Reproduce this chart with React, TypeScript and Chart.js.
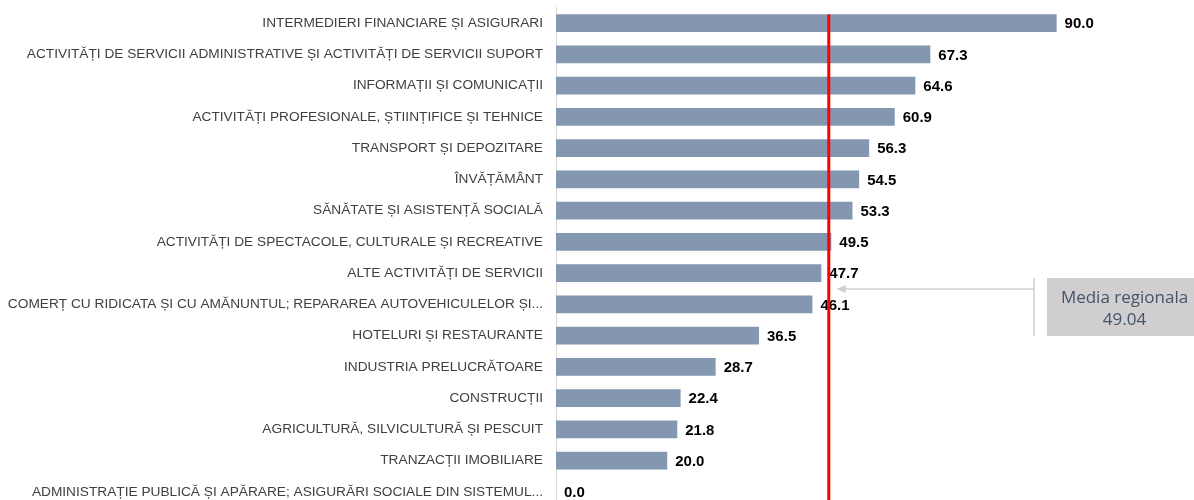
import React, { useEffect, useRef } from "react";
import { Chart, registerables } from "chart.js";

Chart.register(...registerables);

const categories: string[] = [
  "INTERMEDIERI FINANCIARE ȘI ASIGURARI",
  "ACTIVITĂȚI DE SERVICII ADMINISTRATIVE ȘI ACTIVITĂȚI DE SERVICII SUPORT",
  "INFORMAȚII ȘI COMUNICAȚII",
  "ACTIVITĂȚI PROFESIONALE, ȘTIINȚIFICE ȘI TEHNICE",
  "TRANSPORT ȘI DEPOZITARE",
  "ÎNVĂȚĂMÂNT",
  "SĂNĂTATE ȘI ASISTENȚĂ SOCIALĂ",
  "ACTIVITĂȚI DE SPECTACOLE, CULTURALE ȘI RECREATIVE",
  "ALTE ACTIVITĂȚI DE SERVICII",
  "COMERȚ CU RIDICATA ȘI CU AMĂNUNTUL; REPARAREA AUTOVEHICULELOR ȘI...",
  "HOTELURI ȘI RESTAURANTE",
  "INDUSTRIA PRELUCRĂTOARE",
  "CONSTRUCȚII",
  "AGRICULTURĂ, SILVICULTURĂ ȘI PESCUIT",
  "TRANZACȚII IMOBILIARE",
  "ADMINISTRAȚIE PUBLICĂ ȘI APĂRARE; ASIGURĂRI SOCIALE DIN SISTEMUL...",
];

const values: number[] = [90.0, 67.3, 64.6, 60.9, 56.3, 54.5, 53.3, 49.5, 47.7, 46.1, 36.5, 28.7, 22.4, 21.8, 20.0, 0.0];

const regionalAverage = 49.04;
const annotationLines: string[] = ["Media regionala", "49.04"];

const BAR_COLOR = "#8497b0";
const LABEL_COLOR = "#404040";

export default function App() {
  const ref = useRef<HTMLCanvasElement>(null);

  useEffect(() => {
    const canvas = ref.current;
    if (!canvas) return;

    const overlay = {
      id: "overlay",
      afterDatasetsDraw(chart: any) {
        const ctx = chart.ctx as CanvasRenderingContext2D;
        const xs = chart.scales.x;
        const area = chart.chartArea;
        const meta = chart.getDatasetMeta(0);
        ctx.save();

        // value labels
        ctx.font = "bold 15px 'Liberation Sans', Arial, sans-serif";
        ctx.fillStyle = "#000000";
        ctx.textAlign = "left";
        ctx.textBaseline = "middle";
        meta.data.forEach((bar: any, i: number) => {
          ctx.fillText(values[i].toFixed(1), bar.x + 8, bar.y + 1);
        });

        // regional average line
        const xr = xs.getPixelForValue(regionalAverage);
        ctx.strokeStyle = "#ff0000";
        ctx.lineWidth = 3;
        ctx.beginPath();
        ctx.moveTo(xr, area.top + 7);
        ctx.lineTo(xr, area.bottom + 5);
        ctx.stroke();

        // annotation connector
        const boxL = 1047, boxT = 278, boxR = 1194, boxB = 336;
        const connX = 1034;
        const arrowY = 289;
        const tipX = xr + 8;
        ctx.strokeStyle = "#cfcfcf";
        ctx.fillStyle = "#cfcfcf";
        ctx.lineWidth = 1.5;
        ctx.beginPath();
        ctx.moveTo(connX, boxT);
        ctx.lineTo(connX, boxB);
        ctx.moveTo(connX, arrowY);
        ctx.lineTo(tipX + 8, arrowY);
        ctx.stroke();
        ctx.beginPath();
        ctx.moveTo(tipX, arrowY);
        ctx.lineTo(tipX + 9, arrowY - 4);
        ctx.lineTo(tipX + 9, arrowY + 4);
        ctx.closePath();
        ctx.fill();

        // annotation box
        ctx.fillStyle = "#d0cece";
        ctx.fillRect(boxL, boxT, boxR - boxL, boxB - boxT);
        ctx.fillStyle = "#44546a";
        ctx.font = "17px 'Open Sans', Arial, sans-serif";
        ctx.textAlign = "center";
        ctx.textBaseline = "middle";
        const cx = (boxL + boxR) / 2 + 4;
        ctx.fillText(annotationLines[0], cx, 298);
        ctx.fillText(annotationLines[1], cx, 320);

        ctx.restore();
      },
    };

    const chart = new Chart(canvas, {
      type: "bar",
      data: {
        labels: categories,
        datasets: [
          {
            data: values,
            backgroundColor: BAR_COLOR,
            borderWidth: 0,
            barPercentage: 1,
            categoryPercentage: 0.57,
          },
        ],
      },
      options: {
        indexAxis: "y",
        responsive: false,
        animation: false,
        layout: { padding: { top: 7.5, bottom: 2.5, left: 0, right: 0 } },
        plugins: {
          legend: { display: false },
          tooltip: { enabled: false },
        },
        scales: {
          x: {
            display: false,
            min: 0,
            max: 114.7,
          },
          y: {
            grid: { display: false, drawTicks: false },
            border: { display: true, color: "#d9d9d9", width: 1 },
            ticks: {
              color: LABEL_COLOR,
              padding: 13,
              autoSkip: false,
              font: { family: "'Liberation Sans Narrow', 'Arial Narrow', sans-serif", size: 13.7 },
            },
            afterFit(scale: any) {
              scale.width = 556;
              scale.paddingTop = 0;
              scale.paddingBottom = 0;
            },
          },
        },
      },
      plugins: [overlay],
    });

    return () => chart.destroy();
  }, []);

  return (
    <div
      style={{
        position: "fixed",
        left: 0,
        top: 0,
        width: 1194,
        height: 500,
        overflow: "hidden",
        background: "#ffffff",
      }}
    >
      <canvas ref={ref} width={1194} height={510} style={{ display: "block" }} />
    </div>
  );
}
